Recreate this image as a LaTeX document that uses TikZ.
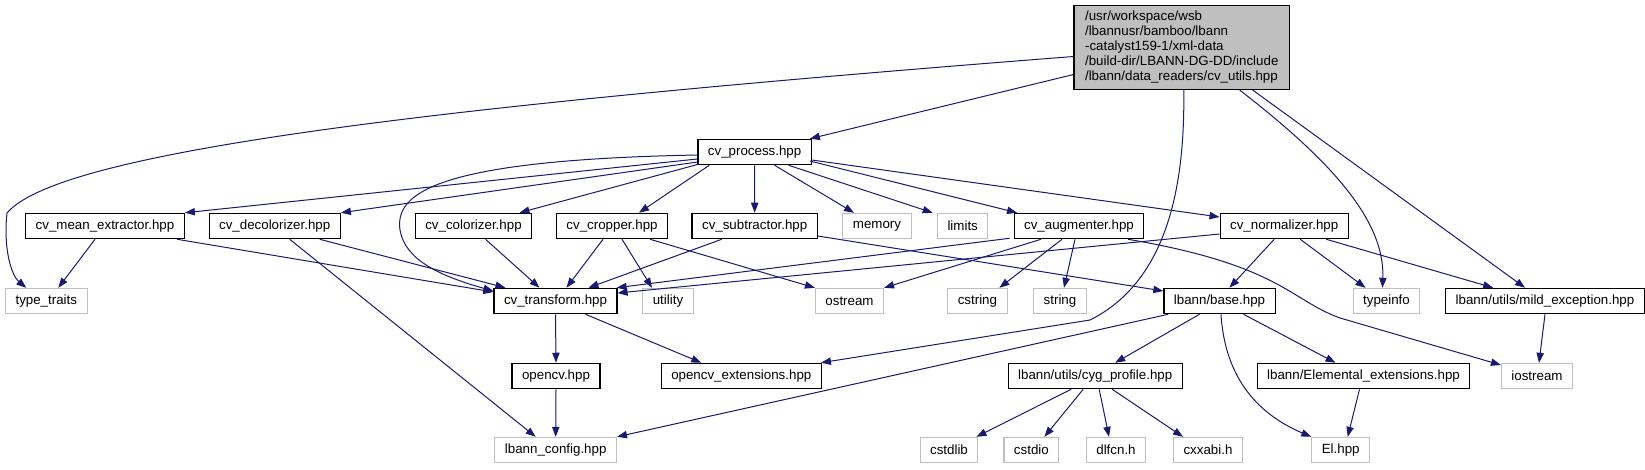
\documentclass[tikz,border=0pt]{standalone}
\usepackage{fontspec}
\setmainfont{Liberation Sans}
\usetikzlibrary{arrows.meta,calc}
\definecolor{edgeblue}{HTML}{191970}
\definecolor{sysgray}{HTML}{BFBFBF}
\begin{document}
\begin{tikzpicture}[x=0.75pt,y=-0.75pt,
	file/.style={draw=black,fill=white,line width=0.9pt,minimum height=19pt,inner xsep=7.5pt,inner ysep=0pt,font=\fontsize{10}{11.25}\selectfont},
	sysfile/.style={file,draw=sysgray,line width=0.8pt},
	dep/.style={draw=edgeblue,line width=0.75pt,-{Triangle[length=7.5pt,width=5.5pt]}}]
	\useasboundingbox (0,0) rectangle (1645,469);
	% the file itself
	\node [file,fill=sysgray,align=left,minimum width=161.5pt,minimum height=63pt] (main) at (1181.75,47.5) {/usr/workspace/wsb\\/lbannusr/bamboo/lbann\\-catalyst159-1/xml-data\\/build-dir/LBANN-DG-DD/include\\/lbann/data\_readers/cv\_utils.hpp};
	\node [file] (process) at (754.6,152) {cv\_process.hpp};
	% second row
	\node [file] (meanext) at (105,226) {cv\_mean\_extractor.hpp};
	\node [file] (decolor) at (274.7,226) {cv\_decolorizer.hpp};
	\node [file] (colorizer) at (473.5,226) {cv\_colorizer.hpp};
	\node [file] (cropper) at (612,226) {cv\_cropper.hpp};
	\node [file] (subtract) at (754.7,226) {cv\_subtractor.hpp};
	\node [sysfile] (memory) at (877,226) {memory};
	\node [sysfile] (limits) at (962.7,226) {limits};
	\node [file] (augment) at (1079,226) {cv\_augmenter.hpp};
	\node [file] (normal) at (1284.2,226) {cv\_normalizer.hpp};
	% third row
	\node [sysfile] (typetraits) at (46.3,301) {type\_traits};
	\node [file] (transform) at (555.5,301) {cv\_transform.hpp};
	\node [sysfile] (utility) at (668,301) {utility};
	\node [sysfile] (ostream) at (849.5,301) {ostream};
	\node [sysfile] (cstring) at (977.4,301) {cstring};
	\node [sysfile] (string) at (1060,301) {string};
	\node [file] (base) at (1219.5,301) {lbann/base.hpp};
	\node [sysfile] (typeinfo) at (1386.5,301) {typeinfo};
	\node [file] (mildexc) at (1545,301) {lbann/utils/mild\_exception.hpp};
	% fourth row
	\node [file] (opencv) at (556,376) {opencv.hpp};
	\node [file] (cvext) at (741.3,376) {opencv\_extensions.hpp};
	\node [file] (cyg) at (1095.2,376) {lbann/utils/cyg\_profile.hpp};
	\node [file] (elemext) at (1363.5,376) {lbann/Elemental\_extensions.hpp};
	\node [sysfile] (iostream) at (1537,376) {iostream};
	% last row
	\node [sysfile] (config) at (555.7,450) {lbann\_config.hpp};
	\node [sysfile] (cstdlib) at (949,450) {cstdlib};
	\node [sysfile] (cstdio) at (1031.4,450) {cstdio};
	\node [sysfile] (dlfcn) at (1116,450) {dlfcn.h};
	\node [sysfile] (cxxabi) at (1208,450) {cxxabi.h};
	\node [sysfile] (el) at (1340.7,450) {El.hpp};
	% includes of cv_utils.hpp
	\draw [dep] ($(main.west)+(0,9)$) .. controls (450,105) and (60,150) .. (7,213) .. controls (3,250) and (12,276) .. ($(typetraits.north)+(-20,0)$);
	\draw [dep] ($(main.west)+(0,27)$) -- ($(process.north east)+(-2,0)$);
	\draw [dep] ($(main.south)+(2,0)$) .. controls (1185,180) and (1170,280) .. (1090,320) -- ($(cvext.north east)+(-1,0)$);
	\draw [dep] ($(main.south)+(58,0)$) .. controls (1330,160) and (1385,220) .. ($(typeinfo.north)+(-4,0)$);
	\draw [dep] ($(main.south)+(71,0)$) -- ($(mildexc.north)+(-20,0)$);
	% cv_process.hpp
	\draw [dep] ($(process.west)+(0,7)$) -- (meanext.north east);
	\draw [dep] ($(process.west)+(0,10)$) -- (decolor.north east);
	\draw [dep] ($(process.west)+(0,3)$) .. controls (430,160) and (395,195) .. (400,230) .. controls (405,260) and (440,276) .. ($(transform.west)+(0,-10)$);
	\draw [dep] ($(process.south west)+(1,-1)$) -- ($(colorizer.north)+(46,0)$);
	\draw [dep] ($(process.south west)+(12,0)$) -- ($(cropper.north)+(27,0)$);
	\draw [dep] (process.south) -- (subtract.north);
	\draw [dep] ($(process.south)+(20,0)$) -- ($(memory.north)+(-23,0)$);
	\draw [dep] ($(process.south)+(34,0)$) -- ($(limits.north)+(-30,0)$);
	\draw [dep] ($(process.east)+(-2,9)$) -- ($(augment.north)+(-62,0)$);
	\draw [dep] ($(process.east)+(0,8)$) -- ($(normal.west)+(0,-9)$);
	% second row
	\draw [dep] ($(meanext.south)+(-10,0)$) -- ($(typetraits.north)+(12,0)$);
	\draw [dep] ($(meanext.south)+(72,0)$) -- ($(transform.west)+(0,-9)$);
	\draw [dep] ($(decolor.south)+(45,0)$) -- ($(transform.north west)+(12,0)$);
	\draw [dep] ($(decolor.south)+(15,0)$) -- ($(config.north)+(-20,0)$);
	\draw [dep] ($(colorizer.south)+(12,0)$) -- ($(transform.north)+(-16,0)$);
	\draw [dep] ($(cropper.south)+(-9,0)$) -- ($(transform.north)+(11,0)$);
	\draw [dep] ($(cropper.south)+(10,0)$) -- ($(utility.north)+(-16,0)$);
	\draw [dep] ($(cropper.south)+(38,0)$) -- (ostream.north west);
	\draw [dep] ($(subtract.south)+(-33,0)$) -- ($(transform.north)+(33,0)$);
	\draw [dep] ($(subtract.east)+(0,10)$) -- ($(base.west)+(0,-10)$);
	\draw [dep] ($(augment.south west)+(-4,-1)$) -- ($(transform.north east)+(-1,0)$);
	\draw [dep] ($(augment.south)+(-38,0)$) -- (ostream.north east);
	\draw [dep] ($(augment.south)+(-17,0)$) -- ($(cstring.north)+(22,0)$);
	\draw [dep] ($(augment.south)+(-4,0)$) -- ($(string.north)+(4,0)$);
	\draw [dep] ($(augment.south)+(49,0)$) .. controls (1280,265) and (1290,300) .. (1340,318) -- ($(iostream.west)+(0,-11)$);
	\draw [dep] ($(normal.west)+(0,8)$) -- ($(transform.east)+(0,-8)$);
	\draw [dep] ($(normal.south)+(-10,0)$) -- ($(base.north)+(10,0)$);
	\draw [dep] ($(normal.south)+(16,0)$) -- ($(typeinfo.north)+(-21,0)$);
	\draw [dep] ($(normal.south)+(42,0)$) -- ($(mildexc.north west)+(48,0)$);
	% third row
	\draw [dep] (transform.south) -- (opencv.north);
	\draw [dep] ($(transform.south)+(30,0)$) -- ($(cvext.north)+(-40,0)$);
	\draw [dep] ($(base.south west)+(5,0)$) -- (config.north east);
	\draw [dep] ($(base.south)+(-20,0)$) -- ($(cyg.north)+(20,0)$);
	\draw [dep] ($(base.south)+(1.5,0)$) .. controls (1225,380) and (1260,415) .. (el.north west);
	\draw [dep] ($(base.south)+(24,0)$) -- ($(elemext.north)+(-28,0)$);
	\draw [dep] (mildexc.south) -- ($(iostream.north)+(2,0)$);
	% fourth row
	\draw [dep] (opencv.south) -- (config.north);
	\draw [dep] ($(cyg.south)+(-24,0)$) -- ($(cstdlib.north east)+(-2,0)$);
	\draw [dep] ($(cyg.south)+(-12,0)$) -- ($(cstdio.north)+(13,0)$);
	\draw [dep] ($(cyg.south)+(4,0)$) -- ($(dlfcn.north)+(-7,0)$);
	\draw [dep] ($(cyg.south)+(17,0)$) -- ($(cxxabi.north west)+(10,0)$);
	\draw [dep] ($(elemext.south)+(-4,0)$) -- ($(el.north)+(7,0)$);
\end{tikzpicture}
\end{document}
